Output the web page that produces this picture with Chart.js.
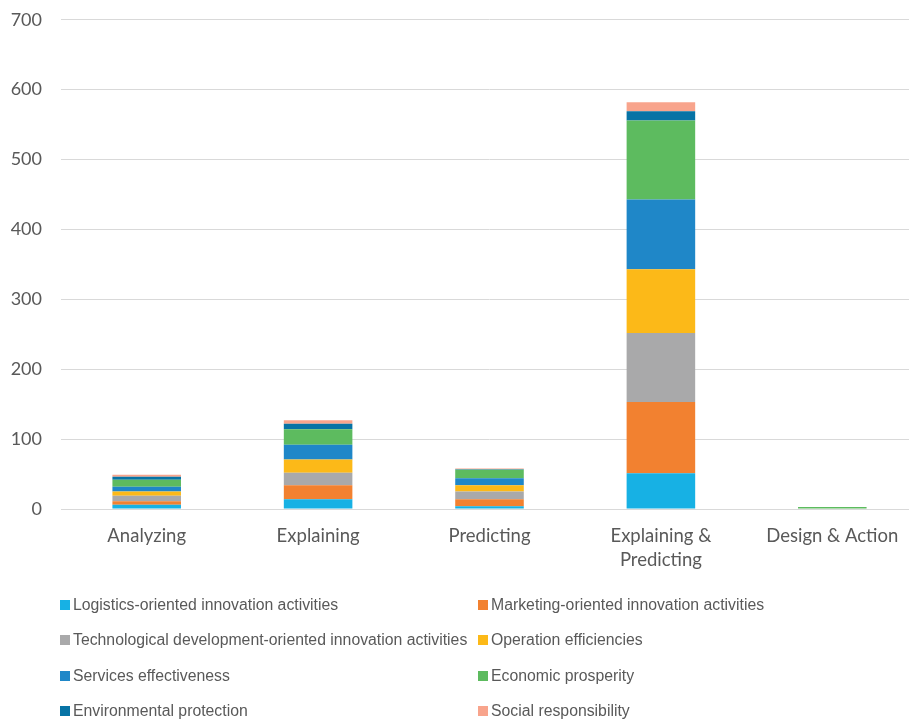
<!DOCTYPE html>
<html><head><meta charset="utf-8">
<script src="https://cdn.jsdelivr.net/npm/chart.js@4.4.1/dist/chart.umd.min.js"></script>
<style>
html,body{margin:0;padding:0;background:#fff;overflow:hidden;width:909px;height:722px;}
#wrap{position:absolute;left:0;top:-10px;width:918px;height:590px;}
#legend{position:absolute;left:0;top:0;width:909px;height:722px;font-family:"Liberation Sans",Arial,sans-serif;font-size:15.8px;color:#595959;pointer-events:none;}
.li{position:absolute;white-space:nowrap;line-height:18px;}
.sw{display:inline-block;width:10px;height:10px;margin-right:3px;vertical-align:0px;}
</style></head>
<body>
<div id="wrap"><canvas id="c" width="918" height="590"></canvas></div>
<div id="legend"></div>
<script>
const categories = ["Analyzing","Explaining","Predicting",["Explaining &","Predicting"],"Design & Action"];
const seriesNames = ["Logistics-oriented innovation activities","Marketing-oriented innovation activities","Technological development-oriented innovation activities","Operation efficiencies","Services effectiveness","Economic prosperity","Environmental protection","Social responsibility"];
const seriesColors = ["#17B1E4","#F28130","#A9A9AA","#FCB918","#1F87C8","#5DBB5F","#0773A5","#F8A48C"];
const logistics   = [6, 14, 4, 51, 0];
const marketing   = [5, 20, 10, 102, 0];
const technology  = [8, 18, 11, 99, 0];
const operation   = [6, 19, 9, 91, 0];
const services    = [7, 21, 10, 100, 0];
const economic    = [10, 22, 12, 113, 3];
const environment = [4, 8, 1, 13, 0];
const social      = [3, 5, 1, 13, 0];
const yTicks = [0,100,200,300,400,500,600,700];

const seriesValues = [logistics, marketing, technology, operation, services, economic, environment, social];

const datasets = seriesNames.map((n,i)=>({
  label:n, data:seriesValues[i], backgroundColor:seriesColors[i],
  borderWidth:0, barPercentage:0.4, categoryPercentage:1.0
}));

new Chart(document.getElementById('c'),{
  type:'bar',
  data:{labels:categories, datasets},
  options:{
    responsive:false, animation:false,
    layout:{padding:{top:9,right:0,left:0,bottom:0}},
    plugins:{legend:{display:false},tooltip:{enabled:false}},
    scales:{
      x:{stacked:true,
         grid:{display:false,drawTicks:false},
         border:{display:true,color:'#D9D9D9',width:1},
         ticks:{color:'#595959',font:{family:'Lato',size:18.5,lineHeight:1.3},padding:15,maxRotation:0,autoSkip:false},
         afterFit:(s)=>{s.height=71;}
      },
      y:{stacked:true,min:0,max:700,
         afterBuildTicks:(s)=>{s.ticks=yTicks.map(v=>({value:v}));},
         grid:{color:'#D9D9D9',drawTicks:false,lineWidth:1},
         border:{display:false},
         ticks:{color:'#595959',font:{family:'Lato',size:18},padding:19},
         afterFit:(s)=>{s.width=61;}
      }
    }
  }
});

const leg = document.getElementById('legend');
const colX = [60,478];
const rowY = [595.5,631,666.5,702];
seriesNames.forEach((n,i)=>{
  const d=document.createElement('div');
  d.className='li';
  d.style.left=colX[i%2]+'px';
  d.style.top=rowY[Math.floor(i/2)]+'px';
  d.innerHTML='<span class="sw" style="background:'+seriesColors[i]+'"></span>'+n;
  leg.appendChild(d);
});
</script>
</body></html>
